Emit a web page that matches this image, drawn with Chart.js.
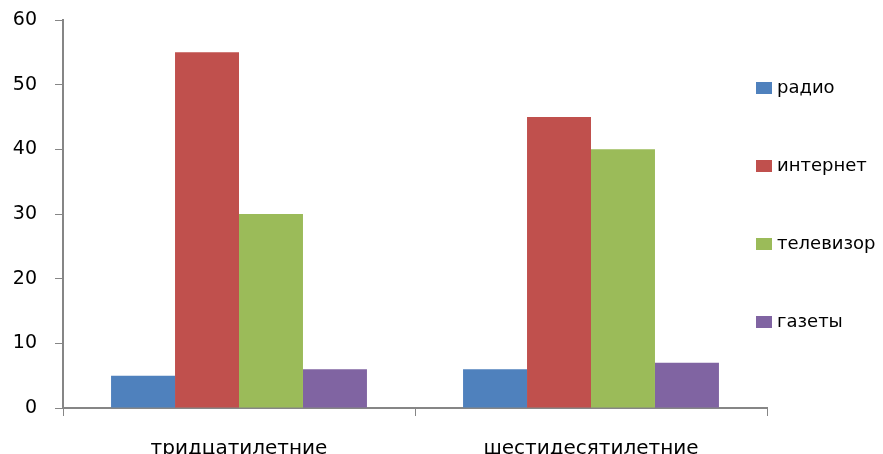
<!DOCTYPE html>
<html>
<head>
<meta charset="utf-8">
<script src="https://cdn.jsdelivr.net/npm/chart.js@4/dist/chart.umd.min.js"></script>
<style>
  html, body { margin: 0; padding: 0; background: #fff; }
  #wrap { width: 883px; height: 454px; position: relative; }
</style>
</head>
<body>
<div id="wrap"><canvas id="chart"></canvas></div>
<script>
const categories = ['тридцатилетние', 'шестидесятилетние'];
const seriesNames = ['радио', 'интернет', 'телевизор', 'газеты'];
const radio = [5, 6];
const internet = [55, 45];
const tv = [30, 40];
const papers = [6, 7];
const yTicks = [0, 10, 20, 30, 40, 50, 60];
const colors = ['#4F81BD', '#C0504D', '#9BBB59', '#8064A2'];

const axisColor = '#868686';
const fontFamily = '"DejaVu Sans", Verdana, sans-serif';

// legend drawn by hand: one column, wide gaps, like the original
const sideLegend = {
    id: 'sideLegend',
    afterDraw(c) {
        const ctx = c.ctx;
        const x = c.chartArea.right - 11;
        ctx.save();
        ctx.font = '18px ' + fontFamily;
        ctx.textBaseline = 'middle';
        ctx.textAlign = 'left';
        c.data.datasets.forEach((ds, i) => {
            const y = 88 + i * 78;
            ctx.fillStyle = ds.backgroundColor;
            ctx.fillRect(x, y - 6, 16, 12);
            ctx.fillStyle = '#000';
            ctx.fillText(ds.label, x + 21, y);
        });
        ctx.restore();
    }
};

const seriesData = [radio, internet, tv, papers];

new Chart(document.getElementById('chart'), {
    type: 'bar',
    data: {
        labels: categories,
        datasets: seriesNames.map((name, i) => ({
            label: name,
            data: seriesData[i],
            backgroundColor: colors[i],
            borderWidth: 0,
            barPercentage: 1,
            categoryPercentage: 0.727
        }))
    },
    options: {
        responsive: true,
        maintainAspectRatio: false,
        animation: false,
        layout: { padding: { left: 0, right: 116, top: 20, bottom: 0 } },
        plugins: {
            legend: { display: false },
            tooltip: { enabled: false }
        },
        scales: {
            x: {
                offset: true,
                afterFit: (axis) => { axis.height = 46; },
                grid: { offset: true, drawOnChartArea: false, drawTicks: true, tickLength: 8, color: axisColor },
                border: { color: axisColor, width: 2 },
                ticks: { color: '#000', font: { family: fontFamily, size: 20 }, padding: 21, maxRotation: 0 }
            },
            y: {
                min: 0,
                max: 60,
                afterFit: (axis) => { axis.width = 63; axis.paddingTop = 0; },
                afterBuildTicks: (axis) => { axis.ticks = yTicks.map(v => ({ value: v })); },
                grid: { drawOnChartArea: false, drawTicks: true, tickLength: 8, color: axisColor },
                border: { color: axisColor, width: 2 },
                ticks: { color: '#000', font: { family: fontFamily, size: 19 }, padding: 18 }
            }
        }
    },
    plugins: [sideLegend]
});
</script>
</body>
</html>
